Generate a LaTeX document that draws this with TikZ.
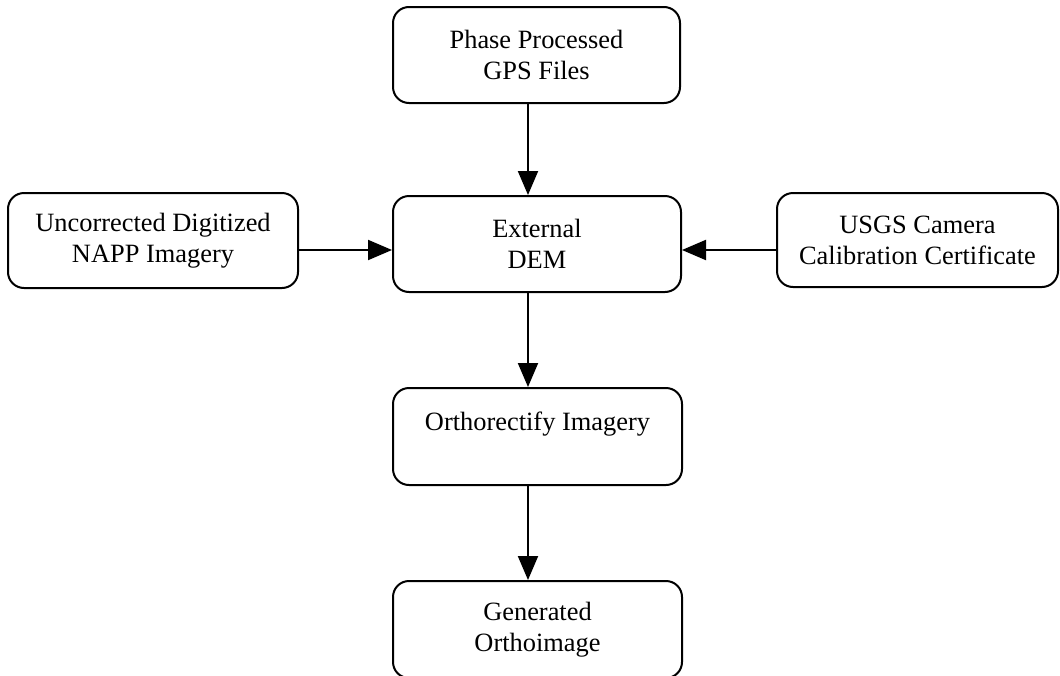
\documentclass[tikz,border=0pt]{standalone}
\usepackage{fontspec}
\setmainfont{Liberation Serif}
\usetikzlibrary{positioning,arrows.meta}

\tikzset{
    stage/.style={rectangle, draw, rounded corners=8pt, line width=1pt,
        minimum width=144pt, minimum height=48pt, align=center,
        font=\fontsize{13.2}{15.4}\selectfont},
    feed/.style={line width=1pt, -{Triangle[width=10pt,length=12pt]}}
}

\begin{document}
\begin{tikzpicture}
    \useasboundingbox (0pt,0pt) rectangle (530pt,-337.5pt);
    \node[stage, minimum width=143.5pt]
        (gps) at (268.25pt,-27.5pt) {Phase Processed\\GPS Files};
    \node[stage]
        (dem) at (268.5pt,-122pt) {External\\DEM};
    \node[stage, minimum width=145pt, minimum height=47.5pt]
        (napp) at (76.5pt,-120.25pt) {Uncorrected Digitized\\NAPP Imagery};
    \node[stage, minimum width=140.5pt, minimum height=47pt]
        (usgs) at (458.75pt,-120pt) {USGS Camera\\Calibration Certificate};
    \node[stage, minimum width=144.5pt, minimum height=48.5pt]
        (ortho) at (268.75pt,-218.25pt) {Orthorectify Imagery\\ \mbox{}};
    \node[stage, minimum width=144.5pt, minimum height=48.5pt]
        (gen) at (268.75pt,-314.75pt) {Generated\\Orthoimage};
    % line of the arrows
    \coordinate (midcol) at (264pt,0pt);
    \coordinate (midrow) at (0pt,-125pt);
    \draw[feed] (gps.south -| midcol) -- (dem.north -| midcol);
    \draw[feed] (napp.east |- midrow) -- (dem.west |- midrow);
    \draw[feed] (usgs.west |- midrow) -- (dem.east |- midrow);
    \draw[feed] (dem.south -| midcol) -- (ortho.north -| midcol);
    \draw[feed] (ortho.south -| midcol) -- (gen.north -| midcol);
\end{tikzpicture}
\end{document}
